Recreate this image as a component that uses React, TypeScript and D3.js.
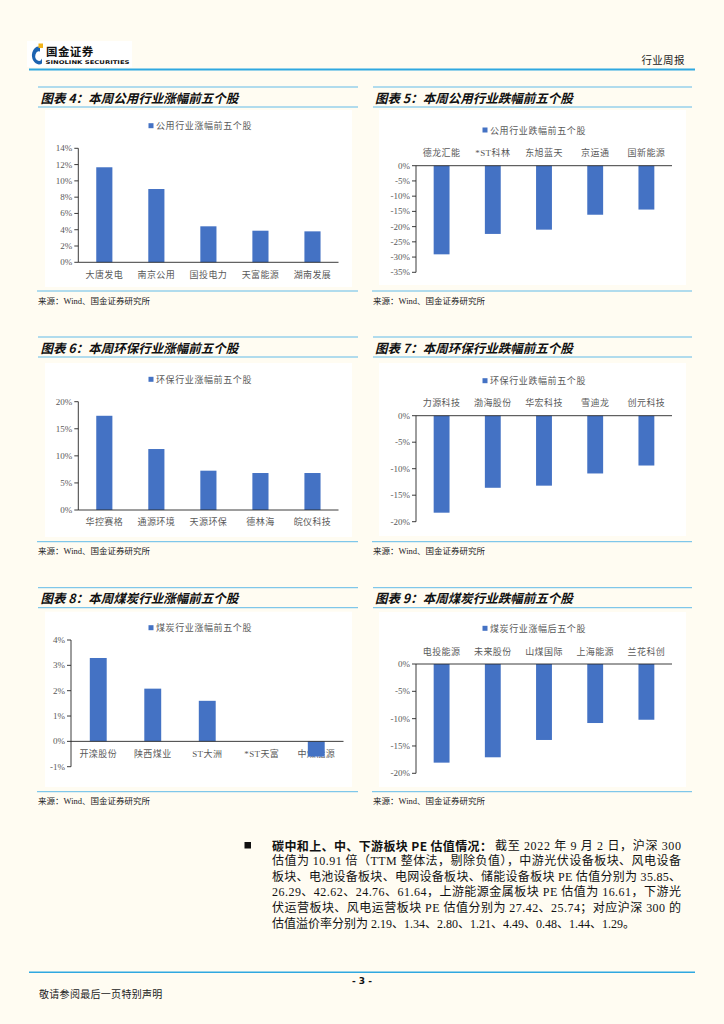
import React from 'react';
import * as d3 from 'd3';

// ---------- data ----------
const c4Cats = ['大唐发电', '南京公用', '国投电力', '天富能源', '湖南发展'];
const c4Vals = [11.67, 9.0, 4.42, 3.88, 3.8];
const c4Ticks = [0, 2, 4, 6, 8, 10, 12, 14];

const c5Cats = ['德龙汇能', '*ST科林', '东旭蓝天', '京运通', '国新能源'];
const c5Vals = [-29.1, -22.4, -21.0, -16.1, -14.4];
const c5Ticks = [0, -5, -10, -15, -20, -25, -30, -35];

const c6Cats = ['华控赛格', '通源环境', '天源环保', '德林海', '皖仪科技'];
const c6Vals = [17.4, 11.26, 7.26, 6.83, 6.83];
const c6Ticks = [0, 5, 10, 15, 20];

const c7Cats = ['力源科技', '渤海股份', '华宏科技', '雪迪龙', '创元科技'];
const c7Vals = [-18.3, -13.6, -13.2, -10.9, -9.4];
const c7Ticks = [0, -5, -10, -15, -20];

const c8Cats = ['开滦股份', '陕西煤业', 'ST大洲', '*ST天富', '中煤能源'];
const c8Vals = [3.29, 2.08, 1.6, 0, -0.6];
const c8Ticks = [-1, 0, 1, 2, 3, 4];

const c9Cats = ['电投能源', '未来股份', '山煤国际', '上海能源', '兰花科创'];
const c9Vals = [-18.05, -17.07, -13.9, -10.8, -10.2];
const c9Ticks = [0, -5, -10, -15, -20];

const titles = [
  '图表 4：本周公用行业涨幅前五个股',
  '图表 5：本周公用行业跌幅前五个股',
  '图表 6：本周环保行业涨幅前五个股',
  '图表 7：本周环保行业跌幅前五个股',
  '图表 8：本周煤炭行业涨幅前五个股',
  '图表 9：本周煤炭行业跌幅前五个股',
];
const legends = [
  '公用行业涨幅前五个股',
  '公用行业跌幅前五个股',
  '环保行业涨幅前五个股',
  '环保行业跌幅前五个股',
  '煤炭行业涨幅前五个股',
  '煤炭行业涨幅后五个股',
];
const sourceText = '来源：Wind、国金证券研究所';

const paraBold = '碳中和上、中、下游板块 PE 估值情况：';
const paraLine1 = '截至 2022 年 9 月 2 日，沪深 300';
const paraLines = [
  '估值为 10.91 倍（TTM 整体法，剔除负值），中游光伏设备板块、风电设备',
  '板块、电池设备板块、电网设备板块、储能设备板块 PE 估值分别为 35.85、',
  '26.29、42.62、24.76、61.64，上游能源金属板块 PE 估值为 16.61，下游光',
  '伏运营板块、风电运营板块 PE 估值分别为 27.42、25.74；对应沪深 300 的',
  '估值溢价率分别为 2.19、1.34、2.80、1.21、4.49、0.48、1.44、1.29。',
];

// ---------- style ----------
const BG = '#fffcf2';
const BAR = '#4472c4';
const LINE = '#62bbe8';
const HEADLINE = '#2fa8e0';
const SERIF = "'Liberation Serif','Noto Sans CJK SC',serif";
const CJK = "'Noto Sans CJK SC','Liberation Serif',sans-serif";
const GRAY = '#595959';

type PanelProps = {
  col: number;
  topLine: number;
  title: string;
  legend: string;
  cats: string[];
  vals: number[];
  ticks: number[];
  domain: [number, number];
  yMin: number;
  yMax: number;
  axisX: number;
  axisRight: number;
  panelTop: number;
  panelBottom: number;
  legendY: number;
  sourceLine: number;
};

function Panel(p: PanelProps) {
  const y = d3.scaleLinear().domain(p.domain).range([p.yMin, p.yMax]);
  const x = d3
    .scaleBand<string>()
    .domain(p.cats)
    .range([p.axisX, p.axisRight])
    .paddingInner(0.69)
    .paddingOuter(0.345);
  const lineL = p.col === 0 ? 38 : 373;
  const lineR = p.col === 0 ? 358 : 692;
  const panelL = p.col === 0 ? 45 : 379;
  const panelR = p.col === 0 ? 352 : 686;
  const titleX = p.col === 0 ? 40.5 : 375;
  const neg = p.vals.every((v) => v <= 0);
  const y0 = y(0);
  const cx = (panelL + panelR) / 2;
  return (
    <g>
      <line x1={lineL} x2={lineR} y1={p.topLine} y2={p.topLine} stroke={LINE} strokeWidth={1} />
      <text
        x={titleX}
        y={p.topLine + 10}
        dominantBaseline="central"
        fontFamily={CJK}
        fontSize={12.5}
        fontWeight="bold"
        fontStyle="italic"
        fill="#111"
      >
        {p.title}
      </text>
      <line x1={lineL} x2={lineR} y1={p.topLine + 20} y2={p.topLine + 20} stroke={LINE} strokeWidth={1} />
      <rect x={panelL} y={p.panelTop} width={panelR - panelL} height={p.panelBottom - p.panelTop} fill="#ffffff" />
      {/* legend */}
      <rect x={cx - 50} y={p.legendY - 2.5} width={5} height={5} fill={BAR} />
      <text
        x={cx - 42.5}
        y={p.legendY}
        dominantBaseline="central"
        fontFamily={CJK}
        fontSize={9}
        letterSpacing={0.6}
        fill={GRAY}
      >
        {p.legend}
      </text>
      {/* category labels */}
      {p.cats.map((c) => (
        <text
          key={c}
          x={(x(c) as number) + x.bandwidth() / 2}
          y={neg ? y0 - 12.4 : y0 + 12.2}
          textAnchor="middle"
          dominantBaseline="central"
          fontFamily={SERIF}
          fontSize={9}
          letterSpacing={0.4}
          fill={GRAY}
        >
          {c}
        </text>
      ))}
      {/* bars */}
      {p.vals.map((v, i) => {
        const c = p.cats[i];
        const top = y(Math.max(0, v));
        const h = Math.abs(y(v) - y0);
        return <rect key={c} x={x(c)} y={top} width={x.bandwidth()} height={h} fill={BAR} />;
      })}
      {/* axes */}
      <line x1={p.axisX} x2={p.axisX} y1={y(p.domain[0])} y2={y(p.domain[1])} stroke="#262626" strokeWidth={0.9} />
      <line x1={p.axisX} x2={p.axisRight} y1={y0} y2={y0} stroke="#262626" strokeWidth={0.9} />
      {p.ticks.map((t) => (
        <g key={t}>
          <line x1={p.axisX - 4} x2={p.axisX} y1={y(t)} y2={y(t)} stroke="#262626" strokeWidth={0.9} />
          <text
            x={p.axisX - 6}
            y={y(t)}
            textAnchor="end"
            dominantBaseline="central"
            fontFamily={SERIF}
            fontSize={9}
            fill={GRAY}
          >
            {`${t}%`}
          </text>
        </g>
      ))}
      {/* source */}
      <line x1={lineL - 1} x2={lineR} y1={p.sourceLine} y2={p.sourceLine} stroke={LINE} strokeWidth={1} />
      <text
        x={lineL}
        y={p.sourceLine + 9.5}
        dominantBaseline="central"
        fontFamily={SERIF}
        fontSize={8.5}
        fill="#222"
      >
        {sourceText}
      </text>
    </g>
  );
}

export default function App() {
  const paraY = (i: number) => 845.5 + i * 15.6;
  return (
    <div style={{ position: 'absolute', left: 0, top: 0, width: 724, height: 1024 }}>
      <svg width={724} height={1024} style={{ display: 'block', background: BG }}>
        <rect x={0} y={0} width={724} height={1024} fill={BG} />
        {/* header logo */}
        <rect x={27} y={41} width={105} height={26} fill="#ffffff" />
        <path
          d="M40,46.5 A7,9 0 1 0 42,63.5 L42,58.5 A3.6,4.8 0 1 1 40,51.5 Z"
          fill="#1c63b0"
        />
        <rect x={38.5} y={43.5} width={4.5} height={4.5} fill="#f2b318" />
        <text x={46} y={50.5} dominantBaseline="central" fontFamily={CJK} fontSize={11.5} fontWeight="bold" fill="#111" letterSpacing={0.4}>
          国金证券
        </text>
        <text x={45.5} y={62} dominantBaseline="central" fontFamily="'DejaVu Sans',sans-serif" fontSize={5.2} fontWeight="bold" fill="#111" textLength={84} lengthAdjust="spacingAndGlyphs">
          SINOLINK SECURITIES
        </text>
        <text x={641.5} y={59.5} dominantBaseline="central" fontFamily={CJK} fontSize={10.5} fill="#222" letterSpacing={0.3}>
          行业周报
        </text>
        <line x1={29} x2={695} y1={69.5} y2={69.5} stroke={HEADLINE} strokeWidth={1.8} />

        <Panel col={0} topLine={87} title={titles[0]} legend={legends[0]} cats={c4Cats} vals={c4Vals} ticks={c4Ticks}
          domain={[0, 14]} yMin={262.3} yMax={148.3} axisX={78.3} axisRight={338.5}
          panelTop={110} panelBottom={287} legendY={125.7} sourceLine={291} />
        <Panel col={1} topLine={87} title={titles[1]} legend={legends[1]} cats={c5Cats} vals={c5Vals} ticks={c5Ticks}
          domain={[-35, 0]} yMin={272.3} yMax={165.7} axisX={416} axisRight={672}
          panelTop={110} panelBottom={285} legendY={130} sourceLine={291} />
        <Panel col={0} topLine={337} title={titles[2]} legend={legends[2]} cats={c6Cats} vals={c6Vals} ticks={c6Ticks}
          domain={[0, 20]} yMin={510} yMax={401.7} axisX={78.3} axisRight={338.5}
          panelTop={363} panelBottom={537} legendY={379.3} sourceLine={541.7} />
        <Panel col={1} topLine={337} title={titles[3]} legend={legends[3]} cats={c7Cats} vals={c7Vals} ticks={c7Ticks}
          domain={[-20, 0]} yMin={521.7} yMax={415.7} axisX={416} axisRight={672}
          panelTop={363} panelBottom={536} legendY={380.7} sourceLine={541.7} />
        <Panel col={0} topLine={587.7} title={titles[4]} legend={legends[4]} cats={c8Cats} vals={c8Vals} ticks={c8Ticks}
          domain={[-1, 4]} yMin={766.7} yMax={640} axisX={71} axisRight={343.5}
          panelTop={611.7} panelBottom={787} legendY={627.7} sourceLine={791.7} />
        <Panel col={1} topLine={587.7} title={titles[5]} legend={legends[5]} cats={c9Cats} vals={c9Vals} ticks={c9Ticks}
          domain={[-20, 0]} yMin={773.3} yMax={664} axisX={416} axisRight={672}
          panelTop={612} panelBottom={787} legendY={628.3} sourceLine={791.7} />

        {/* paragraph */}
        <rect x={244.5} y={842} width={6.5} height={6.5} fill="#111" />
        <text x={272} y={paraY(0)} dominantBaseline="central" fontFamily={CJK} fontSize={12} fontWeight="bold" fill="#111"
          textLength={220} lengthAdjust="spacing">
          {paraBold}
        </text>
        <text x={495} y={paraY(0)} dominantBaseline="central" fontFamily={SERIF} fontSize={12} fill="#111"
          textLength={186} lengthAdjust="spacing">
          {paraLine1}
        </text>
        {paraLines.map((l, i) => (
          <text key={i} x={272} y={paraY(i + 1)} dominantBaseline="central" fontFamily={SERIF} fontSize={12} fill="#111"
            {...(i < paraLines.length - 1 ? { textLength: 409, lengthAdjust: 'spacing' } : {})}>
            {l}
          </text>
        ))}

        {/* footer */}
        <line x1={29} x2={695} y1={972.3} y2={972.3} stroke={HEADLINE} strokeWidth={1.6} />
        <text x={362} y={980.5} textAnchor="middle" dominantBaseline="central" fontFamily="'DejaVu Sans',sans-serif" fontSize={9} fontWeight="bold" fill="#111">
          - 3 -
        </text>
        <text x={39} y={993.5} dominantBaseline="central" fontFamily={CJK} fontSize={10} fill="#222" letterSpacing={0.3}>
          敬请参阅最后一页特别声明
        </text>
      </svg>
    </div>
  );
}
